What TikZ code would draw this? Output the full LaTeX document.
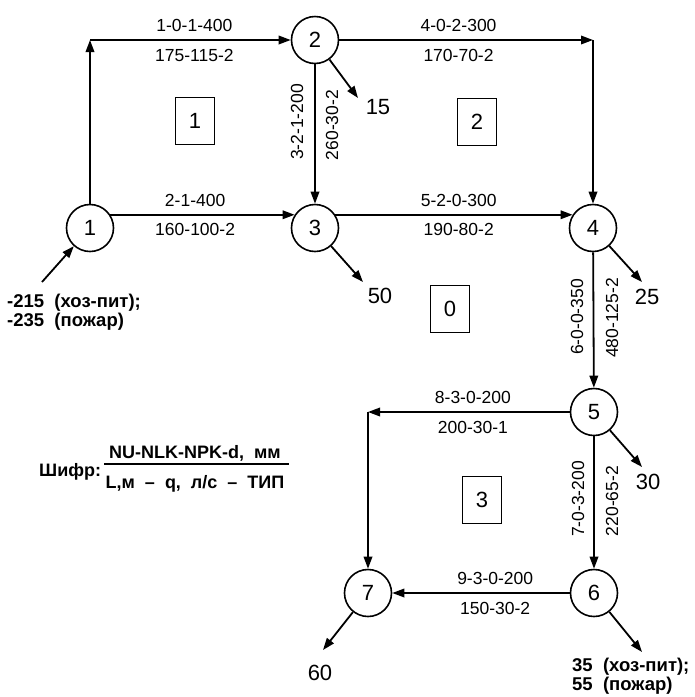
\documentclass[tikz,border=0pt]{standalone}
\usepackage{fontspec}
\setmainfont{Liberation Sans}
\usetikzlibrary{arrows.meta}
\tikzset{
    junction/.style={
        draw,
        circle,
        line width=1.6pt,
        minimum size=47pt,
        inner sep=0pt,
        font=\fontsize{22}{22}\selectfont
    },
    ring/.style={
        draw,
        line width=1.4pt,
        minimum width=39pt,
        minimum height=47pt,
        inner sep=0pt,
        font=\fontsize{22}{22}\selectfont
    },
    pipe/.style={
        -{Triangle[length=12pt,width=8.5pt]},
        line width=1.8pt
    },
    lbl/.style={font=\fontsize{17.5}{17.5}\selectfont, inner sep=0pt},
    vlbl/.style={lbl, rotate=90},
    flow/.style={font=\fontsize{22}{22}\selectfont, inner sep=0pt},
    demand/.style={font=\bfseries\fontsize{18.5}{18.5}\selectfont, align=left, inner sep=0pt},
    legend/.style={font=\bfseries\fontsize{18}{18}\selectfont, inner sep=0pt}
}
\begin{document}
\begin{tikzpicture}[x=1pt, y=-1pt]
\useasboundingbox (0,0) rectangle (695,697);

% junctions
\node[junction] (n1) at (90,228) {1};
\node[junction] (n2) at (315,40) {2};
\node[junction] (n3) at (315,228) {3};
\node[junction] (n4) at (593,228) {4};
\node[junction] (n5) at (594,412) {5};
\node[junction] (n6) at (594,593) {6};
\node[junction] (n7) at (368,593) {7};

% ring numbers
\node[ring] (r1) at (195,121) {1};
\node[ring] (r2) at (477,122) {2};
\node[ring] (r0) at (450,309) {0};
\node[ring] (r3) at (482,500) {3};

% corners and free ends
\coordinate (c12) at (90,40);
\coordinate (c24) at (593,40);
\coordinate (c57) at (368,412);
\coordinate (i1) at (42,282);
\coordinate (o2) at (358,98);
\coordinate (o3) at (363,282);
\coordinate (o4) at (642,282);
\coordinate (o5) at (642,467);
\coordinate (o6) at (642,652);
\coordinate (o7) at (323,650);

% pipes
\draw[pipe] (n1) -- (c12);
\draw[pipe] (c12) -- node[lbl,above=7pt,pos=.52] {1-0-1-400}
    node[lbl,below=8pt,pos=.52] {175-115-2} (n2);
\draw[pipe] (n2) -- node[lbl,above=7pt,pos=.47] {4-0-2-300}
    node[lbl,below=8pt,pos=.47] {170-70-2} (c24);
\draw[pipe] (c24) -- (n4);
\draw[pipe] (n2) -- (n3);
\draw[pipe] (n1.33) -- node[lbl,above=7pt,pos=.46] {2-1-400}
    node[lbl,below=8pt,pos=.46] {160-100-2} (n3.147);
\draw[pipe] (n3.33) -- node[lbl,above=7pt,pos=.52] {5-2-0-300}
    node[lbl,below=8pt,pos=.52] {190-80-2} (n4.147);
\draw[pipe] (n4) -- (n5);
\draw[pipe] (n5) -- node[lbl,above=7pt,pos=.48] {8-3-0-200}
    node[lbl,below=8pt,pos=.48] {200-30-1} (c57);
\draw[pipe] (c57) -- (n7);
\draw[pipe] (n5) -- (n6);
\draw[pipe] (n6) -- node[lbl,above=7pt,pos=.42] {9-3-0-200}
    node[lbl,below=8pt,pos=.42] {150-30-2} (n7);

% vertical pipe labels
\node[vlbl] (l23a) at (297,122) {3-2-1-200};
\node[vlbl] (l23b) at (332,125) {260-30-2};
\node[vlbl] (l45a) at (577,317) {6-0-0-350};
\node[vlbl] (l45b) at (612,318) {480-125-2};
\node[vlbl] (l56a) at (578,499) {7-0-3-200};
\node[vlbl] (l56b) at (612,501) {220-65-2};

% inflow and outflows
\draw[pipe] (i1) -- (n1);
\draw[pipe] (n2) -- (o2);
\draw[pipe] (n3) -- (o3);
\draw[pipe] (n4) -- (o4);
\draw[pipe] (n5) -- (o5);
\draw[pipe] (n6) -- (o6);
\draw[pipe] (n7) -- (o7);

\node[flow] (q2) at (378,107) {15};
\node[flow] (q3) at (380,296) {50};
\node[flow] (q4) at (647,297) {25};
\node[flow] (q5) at (648,482) {30};
\node[flow] (q7) at (320,673) {60};
\node[demand, anchor=north west] (q1) at (7,294) {-215\ \ (хоз-пит);\\-235\ \ (пожар)};
\node[demand, anchor=north west] (q6) at (572,658) {35\ \ (хоз-пит);\\55\ \ (пожар)};

% legend
\node[legend, anchor=west] (shifr) at (39,472) {Шифр:};
\node[legend] (num) at (195,453) {NU-NLK-NPK-d,\ \ мм};
\node[legend] (den) at (195,484) {L,м\ \ –\ \ q,\ \ л/с\ \ –\ \ ТИП};
\draw[line width=1.5pt] (104,464) -- (289,464);

\end{tikzpicture}
\end{document}
